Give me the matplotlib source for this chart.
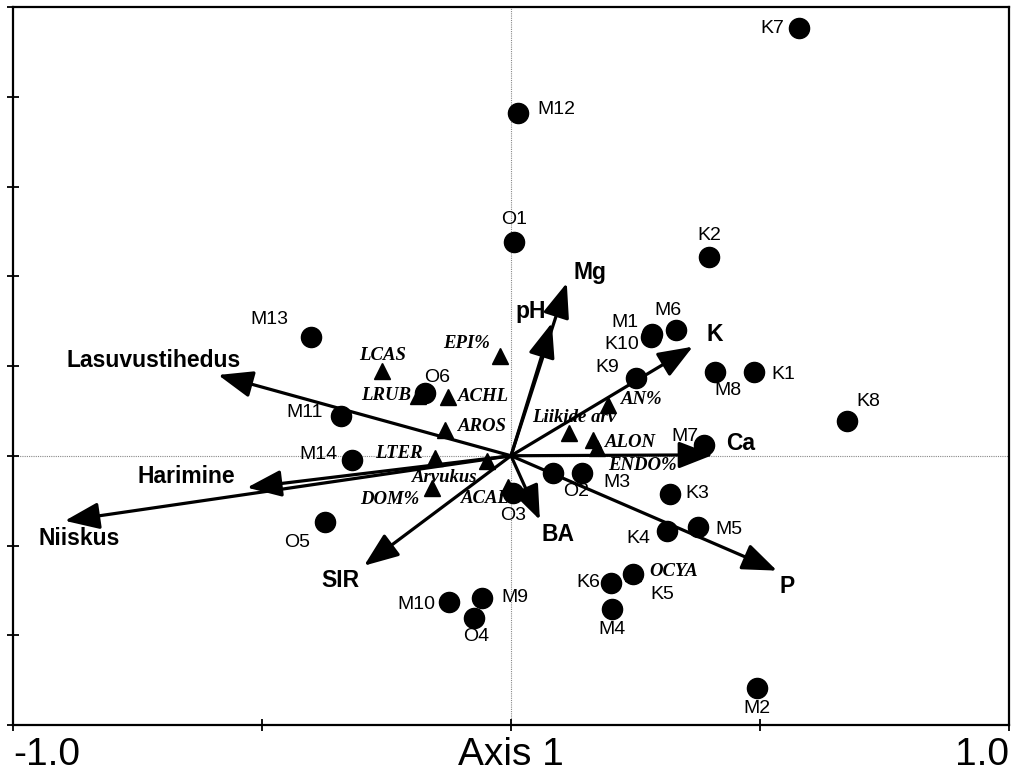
import matplotlib
matplotlib.use("Agg")
import matplotlib.pyplot as plt
from matplotlib.patches import ArrowStyle

# sites (circles)
site_names = ['K7', 'M12', 'O1', 'K2', 'M13', 'M1', 'M6', 'K10', 'K9', 'M8',
              'K1', 'K8', 'M7', 'O6', 'M11', 'M14', 'O5', 'O2', 'M3', 'O3',
              'K3', 'K4', 'M5', 'K5', 'K6', 'M4', 'M10', 'M9', 'O4', 'M2']
site_x = [0.578, 0.014, 0.006, 0.398, -0.402, 0.283, 0.331, 0.281, 0.251, 0.410,
          0.488, 0.675, 0.388, -0.173, -0.341, -0.319, -0.373, 0.084, 0.143, 0.004,
          0.319, 0.313, 0.376, 0.245, 0.201, 0.203, -0.124, -0.058, -0.074, 0.494]
site_y = [0.953, 0.764, 0.477, 0.443, 0.265, 0.272, 0.281, 0.265, 0.174, 0.187,
          0.187, 0.078, 0.024, 0.140, 0.089, -0.009, -0.147, -0.038, -0.038, -0.082,
          -0.085, -0.167, -0.158, -0.263, -0.283, -0.341, -0.325, -0.316, -0.361, -0.517]

# species (triangles)
spec_names = ['LCAS', 'EPI%', 'LRUB', 'ACHL', 'AROS', 'LTER', 'Arvukus', 'DOM%',
              'ACAL', 'Liikide arv', 'AN%', 'ALON', 'ENDO%', 'OCYA']
spec_x = [-0.259, -0.022, -0.187, -0.127, -0.133, -0.153, -0.048, -0.159,
          -0.006, 0.116, 0.195, 0.165, 0.173, 0.245]
spec_y = [0.189, 0.223, 0.134, 0.131, 0.058, -0.004, -0.011, -0.071,
          -0.069, 0.051, 0.114, 0.036, 0.018, -0.262]

# environmental vectors
env_names = ['Mg', 'pH', 'K', 'Ca', 'P', 'BA', 'SIR', 'Niiskus', 'Harimine',
             'Lasuvustihedus']
env_x = [0.112, 0.082, 0.365, 0.406, 0.534, 0.058, -0.295, -0.896, -0.530, -0.588]
env_y = [0.385, 0.296, 0.243, 0.002, -0.256, -0.143, -0.245, -0.145, -0.071, 0.180]

# label offsets in pixels (dx, dy up)
site_off = {'K7': (-27, 0), 'M12': (38, 3), 'O1': (0, 22), 'K2': (0, 21),
            'M13': (-41, 17), 'M1': (-27, 11), 'M6': (-8, 19), 'K10': (-29, -8),
            'K9': (-29, 10), 'M8': (13, -19), 'K1': (29, -3), 'K8': (21, 19),
            'M7': (-19, 8), 'O6': (12, 15), 'M11': (-37, 3), 'M14': (-34, 5),
            'O5': (-28, -21), 'O2': (23, -19), 'M3': (35, -10), 'O3': (0, -23),
            'K3': (27, 0), 'K4': (-28, -8), 'M5': (31, -3), 'K5': (29, -21),
            'K6': (-23, 0), 'M4': (0, -21), 'M10': (-33, -3), 'M9': (33, 0),
            'O4': (2, -19), 'M2': (0, -21)}
spec_off = {'LCAS': (1, 15), 'EPI%': (-33, 12), 'LRUB': (-32, 0), 'ACHL': (36, 0),
            'AROS': (38, 3), 'LTER': (-36, 4), 'Arvukus': (-42, -17),
            'DOM%': (-42, -12), 'ACAL': (-23, -12), 'Liikide arv': (5, 15),
            'AN%': (34, 5), 'ALON': (37, -3), 'ENDO%': (45, -18), 'OCYA': (41, 2)}
env_off = {'Mg': (23, 10), 'pH': (-21, 11), 'K': (22, 12), 'Ca': (27, 11),
           'P': (10, -16), 'BA': (18, -15), 'SIR': (-24, -15), 'Niiskus': (14, -18),
           'Harimine': (-61, 11), 'Lasuvustihedus': (-65, 14)}

fig = plt.figure(figsize=(10.12, 7.71), dpi=100)
ax = fig.add_axes([13 / 1012, 46 / 771, 996 / 1012, 718 / 771])
ax.set_xlim(-1.0, 1.0)
ax.set_ylim(-0.6, 1.0)

ax.axhline(0, color='#888888', lw=0.8, ls=(0, (1, 1)), zorder=1)
ax.axvline(0, color='#888888', lw=0.8, ls=(0, (1, 1)), zorder=1)

# arrows
style = ArrowStyle('-|>', head_length=0.85, head_width=0.33)
for name, x, y in zip(env_names, env_x, env_y):
    ax.annotate('', xy=(x, y), xytext=(0, 0),
                arrowprops=dict(arrowstyle=style, mutation_scale=25, lw=2.3,
                                color='black', shrinkA=0, shrinkB=0),
                zorder=3)
    dx, dy = env_off[name]
    ax.annotate(name, xy=(x, y), xytext=(dx, dy), textcoords='offset pixels',
                ha='center', va='center', fontsize=16.5, fontweight='bold',
                family='Liberation Sans', zorder=5)

# species
ax.plot(spec_x, spec_y, linestyle='none', marker='^', markersize=12,
        color='black', zorder=2)
for name, x, y in zip(spec_names, spec_x, spec_y):
    dx, dy = spec_off[name]
    ax.annotate(name, xy=(x, y), xytext=(dx, dy), textcoords='offset pixels',
                ha='center', va='center', fontsize=13.5, fontweight='bold',
                fontstyle='italic', family='Liberation Serif', zorder=2)

# sites
ax.plot(site_x, site_y, linestyle='none', marker='o', markersize=14.5,
        color='black', zorder=4)
for name, x, y in zip(site_names, site_x, site_y):
    dx, dy = site_off[name]
    ax.annotate(name, xy=(x, y), xytext=(dx, dy), textcoords='offset pixels',
                ha='center', va='center', fontsize=14,
                family='Liberation Sans', zorder=5)

# axes styling
for sp in ax.spines.values():
    sp.set_linewidth(1.6)
ax.set_xticks([-1.0, -0.5, 0.0, 0.5, 1.0])
ax.set_yticks([-0.6, -0.4, -0.2, 0.0, 0.2, 0.4, 0.6, 0.8, 1.0])
ax.tick_params(direction='inout', length=9, width=1.3, labelbottom=False,
               labelleft=False)

for txt, x, ha in [('-1.0', -1.0, 'left'), ('Axis 1', 0.0, 'center'), ('1.0', 1.0, 'right')]:
    ax.annotate(txt, xy=(x, 0), xycoords=('data', 'axes fraction'),
                xytext=(0, -12), textcoords='offset pixels', ha=ha, va='top',
                fontsize=28, family='Liberation Sans')

fig.savefig('out.png', dpi=100)
